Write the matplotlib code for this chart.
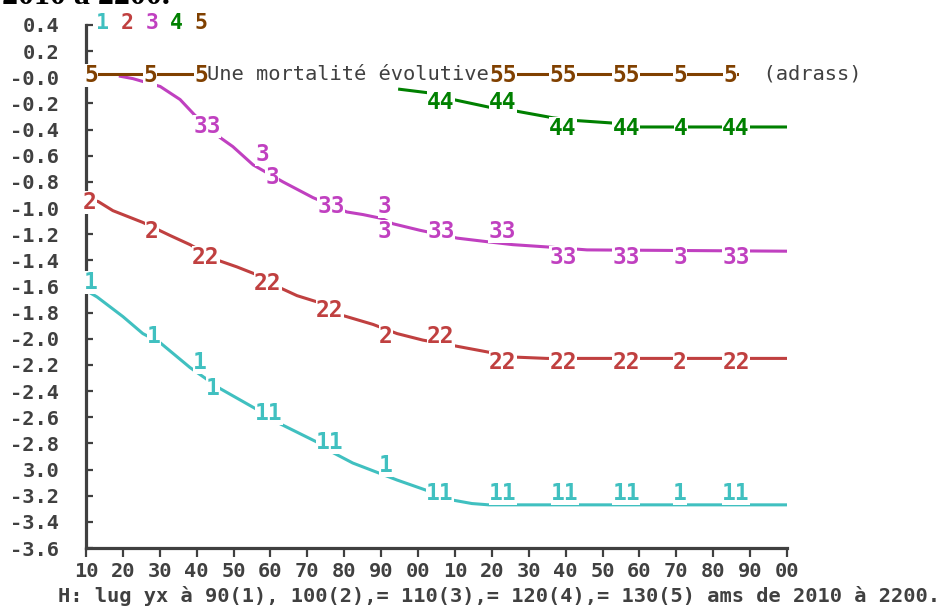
import numpy as np
import matplotlib
matplotlib.use('Agg')
import matplotlib.pyplot as plt

# %% data
years_ticks = list(range(2010, 2201, 10))
xtick_labels = ['%02d' % (y % 100) for y in years_ticks]
ytick_vals = [round(0.4 - 0.2 * i, 1) for i in range(21)]
ytick_labels = ['0.4', '0.2', '-0.0', '-0.2', '-0.4', '-0.6', '-0.8', '-1.0', '-1.2', '-1.4',
                '-1.6', '-1.8', '-2.0', '-2.2', '-2.4', '-2.6', '-2.8', '3.0', '-3.2', '-3.4', '-3.6']

# age 90 (1)
s1_years = [2010, 2013, 2020, 2025.4, 2030.1, 2038.2, 2046.3, 2056.3, 2062.6, 2072.6, 2076.9,
            2082.3, 2089.7, 2094.3, 2102.4, 2108.7, 2114.6, 2119.2, 2200]
s1_vals = [-1.63, -1.68, -1.83, -1.96, -2.03, -2.22, -2.38, -2.54, -2.65, -2.79, -2.87,
           -2.95, -3.03, -3.08, -3.16, -3.23, -3.26, -3.27, -3.27]
s1_mk_years = [2011.4, 2028.4, 2040.9, 2044.4, 2059.6, 2076.1, 2091.3, 2105.9, 2123.0, 2139.8, 2156.4, 2171.0, 2186.2]
s1_mk_vals = [-1.57, -1.98, -2.18, -2.38, -2.57, -2.79, -2.97, -3.18, -3.18, -3.18, -3.18, -3.18, -3.18]
s1_mk_text = ['1', '1', '1', '1', '11', '11', '1', '11', '11', '11', '11', '1', '11']

# age 100 (2)
s2_years = [2010, 2013.3, 2017.3, 2025.4, 2032.8, 2038.2, 2045.8, 2050.9, 2056.3, 2062.6, 2067.2,
            2072.9, 2079.4, 2087.8, 2094.3, 2101.3, 2109.2, 2118.7, 2126.3, 2134.9, 2200]
s2_vals = [-0.93, -0.95, -1.02, -1.11, -1.21, -1.28, -1.40, -1.45, -1.51, -1.61, -1.67,
           -1.72, -1.82, -1.89, -1.96, -2.01, -2.05, -2.10, -2.14, -2.15, -2.15]
s2_mk_years = [2011.1, 2027.9, 2042.5, 2059.3, 2076.1, 2091.3, 2106.2, 2123.0, 2139.3, 2156.4, 2171.0, 2186.2]
s2_mk_vals = [-0.96, -1.18, -1.38, -1.58, -1.78, -1.98, -1.98, -2.18, -2.18, -2.18, -2.18, -2.18]
s2_mk_text = ['2', '2', '22', '22', '22', '2', '22', '22', '22', '22', '2', '22']

# age 110 (3)
s3_years = [2018.9, 2022.7, 2030.1, 2035.5, 2039.5, 2042.8, 2046.3, 2049.8, 2055.3, 2063.4, 2071.5,
            2080.7, 2085.1, 2090.2, 2093.2, 2100.5, 2110.6, 2119.5, 2125.7, 2136.3, 2145.8, 2200]
s3_vals = [0.01, -0.01, -0.07, -0.17, -0.29, -0.37, -0.46, -0.53, -0.67, -0.80, -0.92,
           -1.03, -1.05, -1.08, -1.12, -1.17, -1.23, -1.26, -1.28, -1.30, -1.32, -1.33]
s3_mk_years = [2042.8, 2057.7, 2060.4, 2076.4, 2091.0, 2091.0, 2106.2, 2122.8, 2139.3, 2156.4, 2171.0, 2186.2]
s3_mk_vals = [-0.38, -0.59, -0.77, -0.99, -0.99, -1.18, -1.18, -1.18, -1.38, -1.38, -1.38, -1.38]
s3_mk_text = ['33', '3', '3', '33', '3', '3', '33', '33', '33', '33', '3', '33']

# age 120 (4)
s4_years = [2094.6, 2103.2, 2109.5, 2119.5, 2124.9, 2136.6, 2142.5, 2152.8, 2159.6, 2200]
s4_vals = [-0.09, -0.12, -0.17, -0.23, -0.25, -0.31, -0.33, -0.35, -0.38, -0.38]
s4_mk_years = [2106.2, 2123.0, 2139.3, 2156.4, 2171.2, 2186.2]
s4_mk_vals = [-0.19, -0.19, -0.39, -0.39, -0.39, -0.39]
s4_mk_text = ['44', '44', '44', '44', '4', '44']

# age 130 (5)
s5_years = [2010, 2100, 2200]
s5_vals = [0.025, 0.025, 0.025]
s5_mk_years = [2011.4, 2027.3, 2041.2, 2123.0, 2139.3, 2156.4, 2171.0, 2184.5]
s5_mk_vals = [0.01, 0.01, 0.01, 0.01, 0.01, 0.01, 0.01, 0.01]
s5_mk_text = ['5', '5', '5', '55', '55', '55', '5', '5']

colors = ['#40C0C0', '#C04040', '#C040C0', '#008000', '#804000']
gray = '#404040'
mono = 'DejaVu Sans Mono'

series = [
    (s1_years, s1_vals, s1_mk_years, s1_mk_vals, s1_mk_text),
    (s2_years, s2_vals, s2_mk_years, s2_mk_vals, s2_mk_text),
    (s3_years, s3_vals, s3_mk_years, s3_mk_vals, s3_mk_text),
    (s4_years, s4_vals, s4_mk_years, s4_mk_vals, s4_mk_text),
    (s5_years, s5_vals, s5_mk_years, s5_mk_vals, s5_mk_text),
]

# %% plot
W, H = 944, 608
fig = plt.figure(figsize=(W / 100, H / 100), dpi=100)
ax = fig.add_axes([86 / W, 1 - 548 / H, 701 / W, 523 / H])

for (yrs, vals, myrs, mvals, mtxt), c in zip(series, colors):
    ax.plot(yrs, vals, color=c, lw=2.2, zorder=3, solid_capstyle='butt')
    # plot symbols sit on a white box that hides the line below them
    for x, y, t in zip(myrs, mvals, mtxt):
        ax.text(x, y, t, color=c, ha='center', va='center', fontsize=16.5, family=mono,
                fontweight='bold', zorder=5,
                bbox=dict(facecolor='white', edgecolor='none', pad=0))

# annotations on the brown line
ax.text(2042.8, 0.025, 'Une mortalité évolutive', color=gray, ha='left', va='center',
        fontsize=14.7, family=mono, zorder=4,
        bbox=dict(facecolor='white', edgecolor='none', pad=0))
ax.text(2186.9, 0.025, '  (adrass)', color=gray, ha='left', va='center',
        fontsize=14.7, family=mono, zorder=4, clip_on=False,
        bbox=dict(facecolor='white', edgecolor='none', pad=0))

ax.set_xlim(2010, 2200)
ax.set_ylim(-3.6, 0.4)
for s in ['top', 'right']:
    ax.spines[s].set_visible(False)
for s in ['left', 'bottom']:
    ax.spines[s].set_color(gray)
    ax.spines[s].set_linewidth(2.3)

ax.set_xticks(years_ticks)
ax.set_xticklabels(xtick_labels, fontsize=14.7, family=mono, fontweight='bold', color=gray)
ax.set_yticks(ytick_vals)
ax.set_yticklabels(ytick_labels, fontsize=14.7, family=mono, fontweight='bold', color=gray)
ax.tick_params(axis='x', direction='out', length=6.5, width=1.6, color=gray, pad=3.5)
ax.tick_params(axis='y', direction='in', length=5, width=1.6, color=gray, pad=19.4)

# colored series keys at the top left
legend_x = [103, 127.5, 152, 176, 200.5]
for i, c in enumerate(colors):
    fig.text(legend_x[i] / W, 1 - 23 / H, str(i + 1), color=c, ha='center', va='center',
             fontsize=15.5, family=mono, fontweight='bold')

# caption at the bottom and the cut-off title at the top
fig.text(58 / W, 1 - 596 / H,
         'H: lug yx à 90(1), 100(2),= 110(3),= 120(4),= 130(5) ams de 2010 à 2200.',
         color=gray, ha='left', va='center', fontsize=14.7, family=mono, fontweight='bold')
fig.text(2 / W, 1 - 4 / H, '2010 à 2200.', color='black', ha='left', va='baseline',
         fontsize=23, family='Liberation Serif', fontweight='bold')

fig.savefig('out.png', dpi=100)
